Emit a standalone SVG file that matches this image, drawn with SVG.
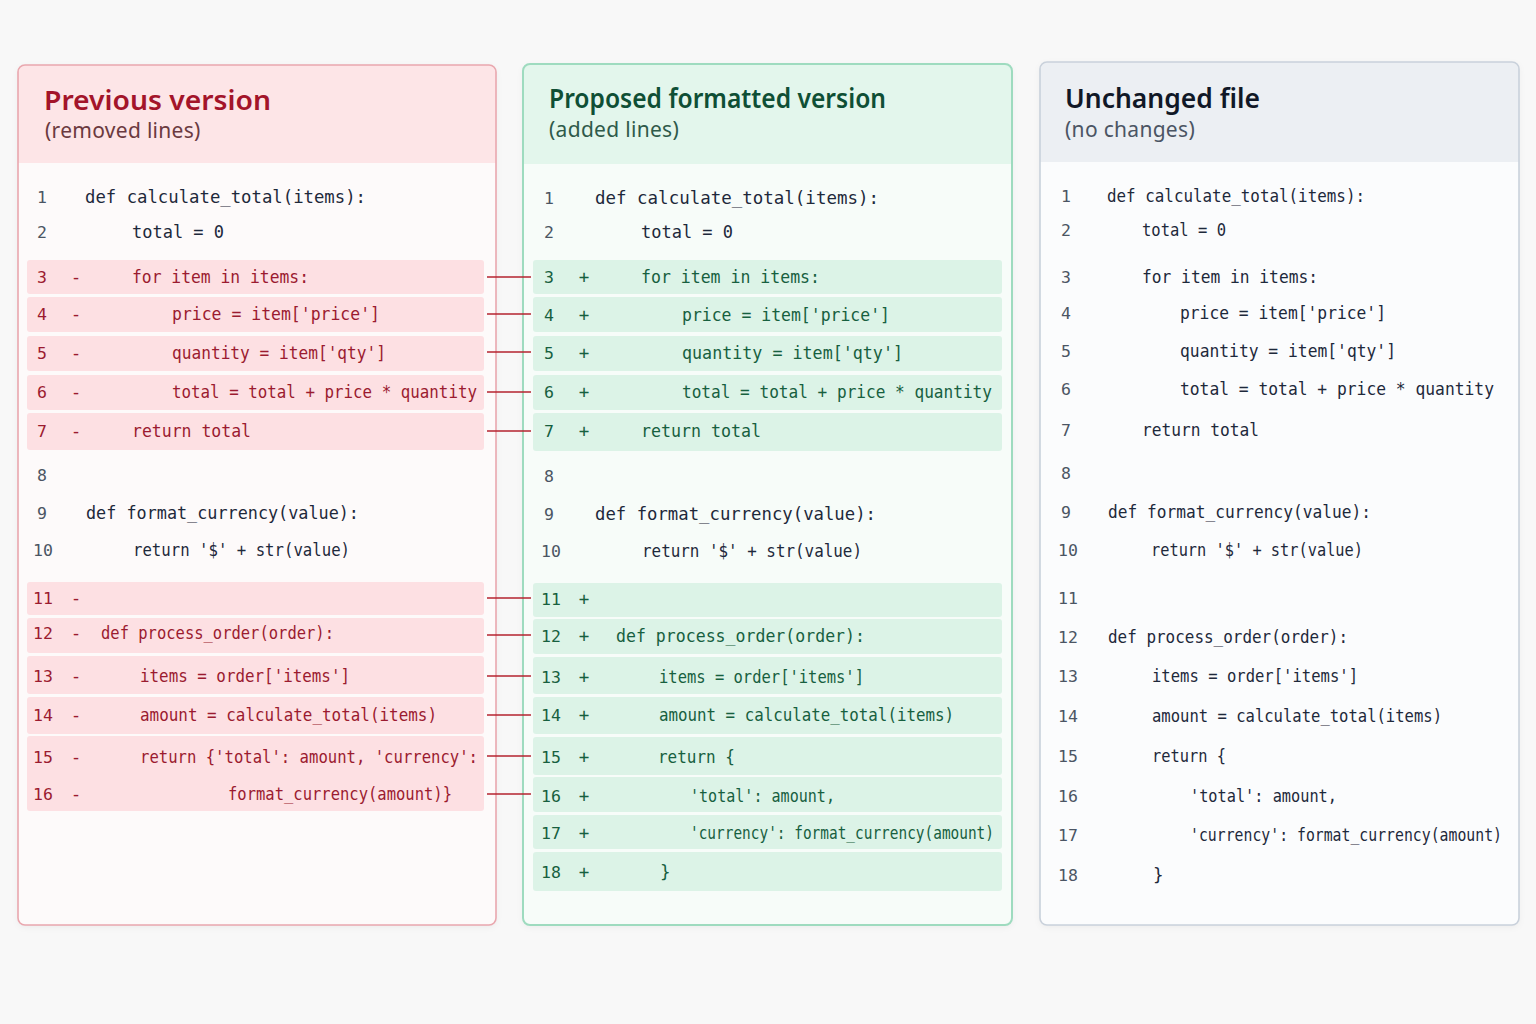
<svg xmlns="http://www.w3.org/2000/svg" width="1536" height="1024" viewBox="0 0 1536 1024">
<defs>
<style>
.bg{fill:#f8f8f8}
.title{font-family:"Noto Sans","Open Sans","Liberation Sans",sans-serif;font-size:27.5px;font-weight:600}
.sub{font-family:"Noto Sans","Open Sans","Liberation Sans",sans-serif;font-size:21px;letter-spacing:0.3px}
.code{font-family:"DejaVu Sans Mono","Liberation Mono",monospace;font-size:17.5px}
.num{font-family:"DejaVu Sans Mono","Liberation Mono",monospace;font-size:16.5px}
.n{fill:#1e293b}
.ln{fill:#4b5563}
.r{fill:#9b1b30}
.g{fill:#17603f}
.rowR{fill:#fde0e3}
.rowG{fill:#dcf3e7}
.conn{stroke:#b4232f;stroke-width:1.6;fill:none}
</style>
<filter id="sh" x="-5%" y="-5%" width="110%" height="110%">
<feDropShadow dx="0" dy="2" stdDeviation="3" flood-color="#000" flood-opacity="0.05"/>
</filter>
</defs>
<rect class="bg" x="0" y="0" width="1536" height="1024"/>

<g id="panel-previous">
<rect x="18" y="65" width="478" height="860" rx="7" fill="#fdfafa" filter="url(#sh)"/>
<path d="M18 163 V72 a7 7 0 0 1 7 -7 H489 a7 7 0 0 1 7 7 V163 Z" fill="#fde5e7"/>
<rect x="18" y="65" width="478" height="860" rx="7" fill="none" stroke="#e9a7ae" stroke-width="1.6"/>
<text class="title" x="44" y="110" fill="#a3142a" textLength="227" lengthAdjust="spacingAndGlyphs">Previous version</text>
<text class="sub" x="45" y="138" fill="#6b3a40">(removed lines)</text>
<rect class="rowR" x="27" y="260" width="457" height="34" rx="3"/>
<rect class="rowR" x="27" y="297" width="457" height="35" rx="3"/>
<rect class="rowR" x="27" y="336" width="457" height="35" rx="3"/>
<rect class="rowR" x="27" y="375" width="457" height="35" rx="3"/>
<rect class="rowR" x="27" y="413" width="457" height="37" rx="3"/>
<rect class="rowR" x="27" y="582" width="457" height="33" rx="3"/>
<rect class="rowR" x="27" y="618" width="457" height="35" rx="3"/>
<rect class="rowR" x="27" y="656" width="457" height="38" rx="3"/>
<rect class="rowR" x="27" y="697" width="457" height="37" rx="3"/>
<rect class="rowR" x="27" y="736" width="457" height="75" rx="3"/>
<g class="num ln">
<text x="37" y="203">1</text><text x="37" y="238">2</text>
<text x="37" y="481">8</text><text x="37" y="519">9</text><text x="33" y="556">10</text>
</g>
<g class="num r">
<text x="37" y="283">3</text><text x="37" y="320">4</text><text x="37" y="359">5</text><text x="37" y="398">6</text><text x="37" y="437">7</text>
<text x="33" y="604">11</text><text x="33" y="639">12</text><text x="33" y="682">13</text><text x="33" y="721">14</text><text x="33" y="763">15</text><text x="33" y="800">16</text>
</g>
<g class="code r" text-anchor="middle">
<text x="76" y="283">-</text><text x="76" y="320">-</text><text x="76" y="359">-</text><text x="76" y="398">-</text><text x="76" y="437">-</text>
<text x="76" y="604">-</text><text x="76" y="639">-</text><text x="76" y="682">-</text><text x="76" y="721">-</text><text x="76" y="763">-</text><text x="76" y="800">-</text>
</g>
<g class="code n">
<text x="85" y="203" textLength="281" lengthAdjust="spacingAndGlyphs">def calculate_total(items):</text>
<text x="132" y="238" textLength="92" lengthAdjust="spacingAndGlyphs">total = 0</text>
<text x="86" y="519" textLength="273" lengthAdjust="spacingAndGlyphs">def format_currency(value):</text>
<text x="133" y="556" textLength="217" lengthAdjust="spacingAndGlyphs">return '$' + str(value)</text>
</g>
<g class="code r">
<text x="132" y="283" textLength="177" lengthAdjust="spacingAndGlyphs">for item in items:</text>
<text x="172" y="320" textLength="208" lengthAdjust="spacingAndGlyphs">price = item['price']</text>
<text x="172" y="359" textLength="214" lengthAdjust="spacingAndGlyphs">quantity = item['qty']</text>
<text x="172" y="398" textLength="305" lengthAdjust="spacingAndGlyphs">total = total + price * quantity</text>
<text x="132" y="437" textLength="119" lengthAdjust="spacingAndGlyphs">return total</text>
<text x="101" y="639" textLength="233" lengthAdjust="spacingAndGlyphs">def process_order(order):</text>
<text x="140" y="682" textLength="210" lengthAdjust="spacingAndGlyphs">items = order['items']</text>
<text x="140" y="721" textLength="297" lengthAdjust="spacingAndGlyphs">amount = calculate_total(items)</text>
<text x="140" y="763" textLength="338" lengthAdjust="spacingAndGlyphs">return {'total': amount, 'currency':</text>
<text x="228" y="800" textLength="224" lengthAdjust="spacingAndGlyphs">format_currency(amount)}</text>
</g>
</g>

<g id="panel-proposed">
<rect x="523" y="64" width="489" height="861" rx="7" fill="#f7fcf9" filter="url(#sh)"/>
<path d="M523 164 V71 a7 7 0 0 1 7 -7 H1005 a7 7 0 0 1 7 7 V164 Z" fill="#e3f6ec"/>
<rect x="523" y="64" width="489" height="861" rx="7" fill="none" stroke="#9edbbf" stroke-width="2"/>
<text class="title" x="549" y="108" fill="#0f4f35" textLength="337" lengthAdjust="spacingAndGlyphs">Proposed formatted version</text>
<text class="sub" x="549" y="137" fill="#2f5a4a">(added lines)</text>
<rect class="rowG" x="533" y="260" width="469" height="34" rx="3"/>
<rect class="rowG" x="533" y="297" width="469" height="35" rx="3"/>
<rect class="rowG" x="533" y="336" width="469" height="35" rx="3"/>
<rect class="rowG" x="533" y="375" width="469" height="35" rx="3"/>
<rect class="rowG" x="533" y="413" width="469" height="38" rx="3"/>
<rect class="rowG" x="533" y="583" width="469" height="34" rx="3"/>
<rect class="rowG" x="533" y="619" width="469" height="35" rx="3"/>
<rect class="rowG" x="533" y="657" width="469" height="37" rx="3"/>
<rect class="rowG" x="533" y="697" width="469" height="37" rx="3"/>
<rect class="rowG" x="533" y="737" width="469" height="38" rx="3"/>
<rect class="rowG" x="533" y="777" width="469" height="35" rx="3"/>
<rect class="rowG" x="533" y="815" width="469" height="34" rx="3"/>
<rect class="rowG" x="533" y="852" width="469" height="39" rx="3"/>
<g class="num ln">
<text x="544" y="204">1</text><text x="544" y="238">2</text>
<text x="544" y="482">8</text><text x="544" y="520">9</text><text x="541" y="557">10</text>
</g>
<g class="num g">
<text x="544" y="283">3</text><text x="544" y="321">4</text><text x="544" y="359">5</text><text x="544" y="398">6</text><text x="544" y="437">7</text>
<text x="541" y="605">11</text><text x="541" y="642">12</text><text x="541" y="683">13</text><text x="541" y="721">14</text><text x="541" y="763">15</text><text x="541" y="802">16</text><text x="541" y="839">17</text><text x="541" y="878">18</text>
</g>
<g class="code g" text-anchor="middle">
<text x="584" y="283">+</text><text x="584" y="321">+</text><text x="584" y="359">+</text><text x="584" y="398">+</text><text x="584" y="437">+</text>
<text x="584" y="605">+</text><text x="584" y="642">+</text><text x="584" y="683">+</text><text x="584" y="721">+</text><text x="584" y="763">+</text><text x="584" y="802">+</text><text x="584" y="839">+</text><text x="584" y="878">+</text>
</g>
<g class="code n">
<text x="595" y="204" textLength="284" lengthAdjust="spacingAndGlyphs">def calculate_total(items):</text>
<text x="641" y="238" textLength="92" lengthAdjust="spacingAndGlyphs">total = 0</text>
<text x="595" y="520" textLength="281" lengthAdjust="spacingAndGlyphs">def format_currency(value):</text>
<text x="642" y="557" textLength="220" lengthAdjust="spacingAndGlyphs">return '$' + str(value)</text>
</g>
<g class="code g">
<text x="641" y="283" textLength="179" lengthAdjust="spacingAndGlyphs">for item in items:</text>
<text x="682" y="321" textLength="208" lengthAdjust="spacingAndGlyphs">price = item['price']</text>
<text x="682" y="359" textLength="221" lengthAdjust="spacingAndGlyphs">quantity = item['qty']</text>
<text x="682" y="398" textLength="310" lengthAdjust="spacingAndGlyphs">total = total + price * quantity</text>
<text x="641" y="437" textLength="120" lengthAdjust="spacingAndGlyphs">return total</text>
<text x="616" y="642" textLength="249" lengthAdjust="spacingAndGlyphs">def process_order(order):</text>
<text x="659" y="683" textLength="205" lengthAdjust="spacingAndGlyphs">items = order['items']</text>
<text x="659" y="721" textLength="295" lengthAdjust="spacingAndGlyphs">amount = calculate_total(items)</text>
<text x="658" y="763" textLength="77" lengthAdjust="spacingAndGlyphs">return {</text>
<text x="690" y="802" textLength="145" lengthAdjust="spacingAndGlyphs">'total': amount,</text>
<text x="690" y="839" textLength="304" lengthAdjust="spacingAndGlyphs">'currency': format_currency(amount)</text>
<text x="660" y="878">}</text>
</g>
</g>

<g id="panel-unchanged">
<rect x="1040" y="62" width="479" height="863" rx="7" fill="#fbfcfd" filter="url(#sh)"/>
<path d="M1040 162 V69 a7 7 0 0 1 7 -7 H1512 a7 7 0 0 1 7 7 V162 Z" fill="#eceff3"/>
<rect x="1040" y="62" width="479" height="863" rx="7" fill="none" stroke="#c9d1db" stroke-width="1.6"/>
<text class="title" x="1065" y="108" fill="#111827" textLength="195" lengthAdjust="spacingAndGlyphs">Unchanged file</text>
<text class="sub" x="1065" y="137" fill="#4b5563">(no changes)</text>
<g class="num ln">
<text x="1061" y="202">1</text><text x="1061" y="236">2</text><text x="1061" y="283">3</text><text x="1061" y="319">4</text><text x="1061" y="357">5</text><text x="1061" y="395">6</text><text x="1061" y="436">7</text><text x="1061" y="479">8</text><text x="1061" y="518">9</text>
<text x="1058" y="556">10</text><text x="1058" y="604">11</text><text x="1058" y="643">12</text><text x="1058" y="682">13</text><text x="1058" y="722">14</text><text x="1058" y="762">15</text><text x="1058" y="802">16</text><text x="1058" y="841">17</text><text x="1058" y="881">18</text>
</g>
<g class="code n">
<text x="1107" y="202" textLength="258" lengthAdjust="spacingAndGlyphs">def calculate_total(items):</text>
<text x="1142" y="236" textLength="84" lengthAdjust="spacingAndGlyphs">total = 0</text>
<text x="1142" y="283" textLength="176" lengthAdjust="spacingAndGlyphs">for item in items:</text>
<text x="1180" y="319" textLength="206" lengthAdjust="spacingAndGlyphs">price = item['price']</text>
<text x="1180" y="357" textLength="216" lengthAdjust="spacingAndGlyphs">quantity = item['qty']</text>
<text x="1180" y="395" textLength="314" lengthAdjust="spacingAndGlyphs">total = total + price * quantity</text>
<text x="1142" y="436" textLength="117" lengthAdjust="spacingAndGlyphs">return total</text>
<text x="1108" y="518" textLength="263" lengthAdjust="spacingAndGlyphs">def format_currency(value):</text>
<text x="1151" y="556" textLength="212" lengthAdjust="spacingAndGlyphs">return '$' + str(value)</text>
<text x="1108" y="643" textLength="240" lengthAdjust="spacingAndGlyphs">def process_order(order):</text>
<text x="1152" y="682" textLength="206" lengthAdjust="spacingAndGlyphs">items = order['items']</text>
<text x="1152" y="722" textLength="290" lengthAdjust="spacingAndGlyphs">amount = calculate_total(items)</text>
<text x="1152" y="762" textLength="74" lengthAdjust="spacingAndGlyphs">return {</text>
<text x="1190" y="802" textLength="147" lengthAdjust="spacingAndGlyphs">'total': amount,</text>
<text x="1190" y="841" textLength="312" lengthAdjust="spacingAndGlyphs">'currency': format_currency(amount)</text>
<text x="1153" y="881">}</text>
</g>
</g>

<g id="connectors">
<line class="conn" x1="487" y1="277" x2="531" y2="277"/>
<line class="conn" x1="487" y1="314" x2="531" y2="314"/>
<line class="conn" x1="487" y1="352" x2="531" y2="352"/>
<line class="conn" x1="487" y1="392" x2="531" y2="392"/>
<line class="conn" x1="487" y1="431" x2="531" y2="431"/>
<line class="conn" x1="487" y1="598" x2="531" y2="598"/>
<line class="conn" x1="487" y1="635" x2="531" y2="635"/>
<line class="conn" x1="487" y1="676" x2="531" y2="676"/>
<line class="conn" x1="487" y1="715" x2="531" y2="715"/>
<line class="conn" x1="487" y1="756" x2="531" y2="756"/>
<line class="conn" x1="487" y1="794" x2="531" y2="794"/>
</g>
</svg>
